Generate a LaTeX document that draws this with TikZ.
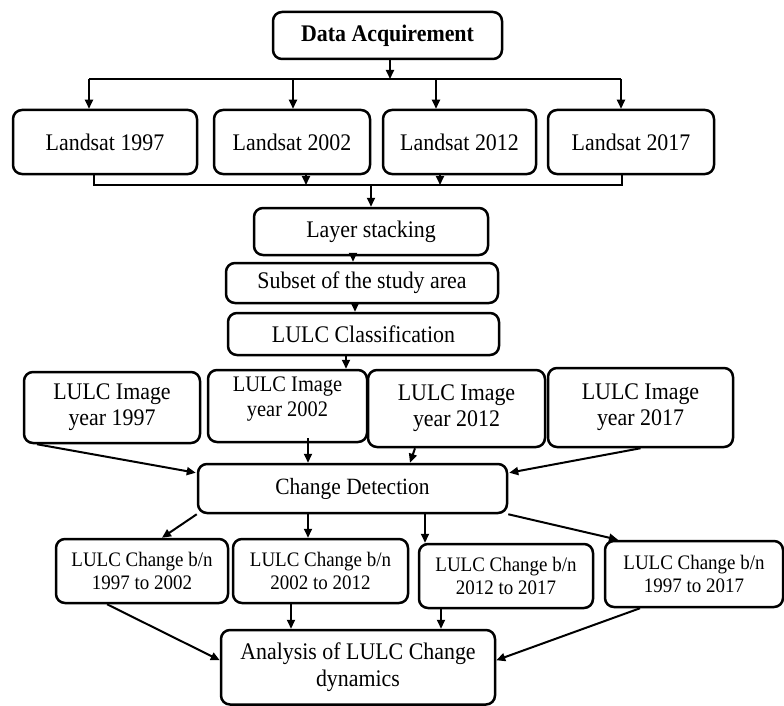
\documentclass[tikz,border=0pt]{standalone}
\usepackage{fontspec}
\setmainfont[FakeStretch=0.92]{Liberation Serif}
\usetikzlibrary{arrows.meta}
\begin{document}
\begin{tikzpicture}[x=1pt,y=-1pt,
  box/.style={draw=black,line width=2.5pt,rounded corners=9pt,inner sep=0pt,align=center,
    font=\fontsize{23.8}{26}\selectfont},
  line/.style={draw=black,line width=2pt},
  arr/.style={line,-{Triangle[length=9pt,width=8pt]}}]
\useasboundingbox (0,0) rectangle (784,706);
% top
\node[box,minimum width=229pt,minimum height=47pt,font=\fontsize{23.8}{26}\selectfont\bfseries] (da) at (387.5,35.5) {Data Acquirement};
\node[box,minimum width=184pt,minimum height=64pt] (l1) at (105,142) {Landsat 1997};
\node[box,minimum width=156pt,minimum height=64pt] (l2) at (292,142) {Landsat 2002};
\node[box,minimum width=153pt,minimum height=64pt] (l3) at (459.5,142) {Landsat 2012};
\node[box,minimum width=166pt,minimum height=64pt] (l4) at (631,142) {Landsat 2017};
\coordinate (t0) at (89,79);
\coordinate (t1) at (621,79);
\coordinate (t2) at (293,79);
\coordinate (t3) at (436,79);
\coordinate (t4) at (390,79);
\draw[line] (t0) -- (t1);
\draw[arr] ([xshift=2.5pt]da.south) -- (t4);
\draw[arr] (t0) -- (t0 |- l1.north);
\draw[arr] (t2) -- (t2 |- l2.north);
\draw[arr] (t3) -- (t3 |- l3.north);
\draw[arr] (t1) -- (t1 |- l4.north);
% bottom bar
\coordinate (b0) at (94,185);
\coordinate (b1) at (622,185);
\coordinate (b2) at (306,185);
\coordinate (b3) at (440,185);
\coordinate (b4) at (371,185);
\draw[line] (b0 |- l1.south) -- (b0) -- (b1) -- (b1 |- l4.south);
\draw[arr] (b2 |- l2.south) -- (b2);
\draw[arr] (b3 |- l3.south) -- (b3);
% middle chain
\node[box,minimum width=234pt,minimum height=47pt] (ls) at (371,231.5) {Layer stacking};
\node[box,minimum width=272pt,minimum height=40pt] (ss) at (362,283) {Subset of the study area};
\node[box,minimum width=271pt,minimum height=42pt] (cl) at (363.5,334) {LULC Classification};
\draw[arr] (b4) -- (ls.north);
\draw[arr] ([xshift=-18pt]ls.south) -- ([xshift=-18pt]ls.south |- ss.north);
\draw[arr] ([xshift=-7pt]ss.south) -- ([xshift=-7pt]ss.south |- cl.north);
% images
\node[box,minimum width=176pt,minimum height=71pt,font=\fontsize{23.8}{26}\selectfont] (i1) at (112,407.5) {LULC Image\\year 1997};
\node[box,minimum width=159pt,minimum height=72pt] (i2) at (287.5,406) {};
\node[align=center,inner sep=0pt,font=\fontsize{22.2}{25}\selectfont] (i2t) at ([yshift=7pt]i2.center) {LULC Image\\year 2002};
\node[box,minimum width=177pt,minimum height=77pt,font=\fontsize{23.8}{26}\selectfont] (i3) at (456.5,408.5) {LULC Image\\year 2012};
\node[box,minimum width=185pt,minimum height=79pt,font=\fontsize{23.8}{26}\selectfont] (i4) at (640.5,407.5) {LULC Image\\year 2017};
\draw[arr] ([xshift=-17.5pt]cl.south) -- ([xshift=-17.5pt]cl.south |- i2.north);
% change detection
\node[box,minimum width=309pt,minimum height=49pt,font=\fontsize{23.3}{26}\selectfont] (cd) at (352.5,488.5) {Change Detection};
\draw[arr] ([xshift=-75pt]i1.south) -- ([xshift=-1pt,yshift=-10pt]cd.north west);
\draw[arr] ([xshift=20.5pt,yshift=5pt]i2.south) -- ([xshift=20.5pt]i2.south |- cd.north);
\draw[arr] ([xshift=-41.5pt]i3.south) -- ([xshift=57.5pt]cd.north);
\draw[arr] (i4.south) -- ([xshift=1pt,yshift=-10pt]cd.north east);
% change boxes
\node[box,minimum width=172pt,minimum height=64pt,font=\fontsize{20.6}{23}\selectfont] (c1) at (142,571) {LULC Change b/n\\1997 to 2002};
\node[box,minimum width=175pt,minimum height=64pt,font=\fontsize{20.6}{23}\selectfont] (c2) at (320.5,571) {LULC Change b/n\\2002 to 2012};
\node[box,minimum width=174pt,minimum height=64pt,font=\fontsize{20.6}{23}\selectfont] (c3) at (506,576) {LULC Change b/n\\2012 to 2017};
\node[box,minimum width=178pt,minimum height=66pt,font=\fontsize{20.6}{23}\selectfont] (c4) at (694,574) {LULC Change b/n\\1997 to 2017};
\draw[arr] (cd.south west) -- ([xshift=20pt]c1.north);
\draw[arr] ([xshift=-44.5pt]cd.south) -- ([xshift=-44.5pt]cd.south |- c2.north);
\draw[arr] ([xshift=72.5pt]cd.south) -- ([xshift=72.5pt]cd.south |- c3.north);
\draw[arr] (cd.south east) -- ([xshift=-76pt]c4.north);
% analysis
\node[box,minimum width=274pt,minimum height=74.5pt,font=\fontsize{23.8}{27}\selectfont] (an) at (358,667.25) {Analysis of LULC Change\\dynamics};
\draw[arr] ([xshift=-35pt]c1.south) -- ([yshift=7pt]an.west);
\draw[arr] ([xshift=-29.5pt]c2.south) -- ([xshift=-29.5pt]c2.south |- an.north);
\draw[arr] ([xshift=-65pt]c3.south) -- ([xshift=-65pt]c3.south |- an.north);
\draw[arr] ([xshift=-54pt]c4.south) -- ([yshift=7pt]an.east);
\end{tikzpicture}
\end{document}
